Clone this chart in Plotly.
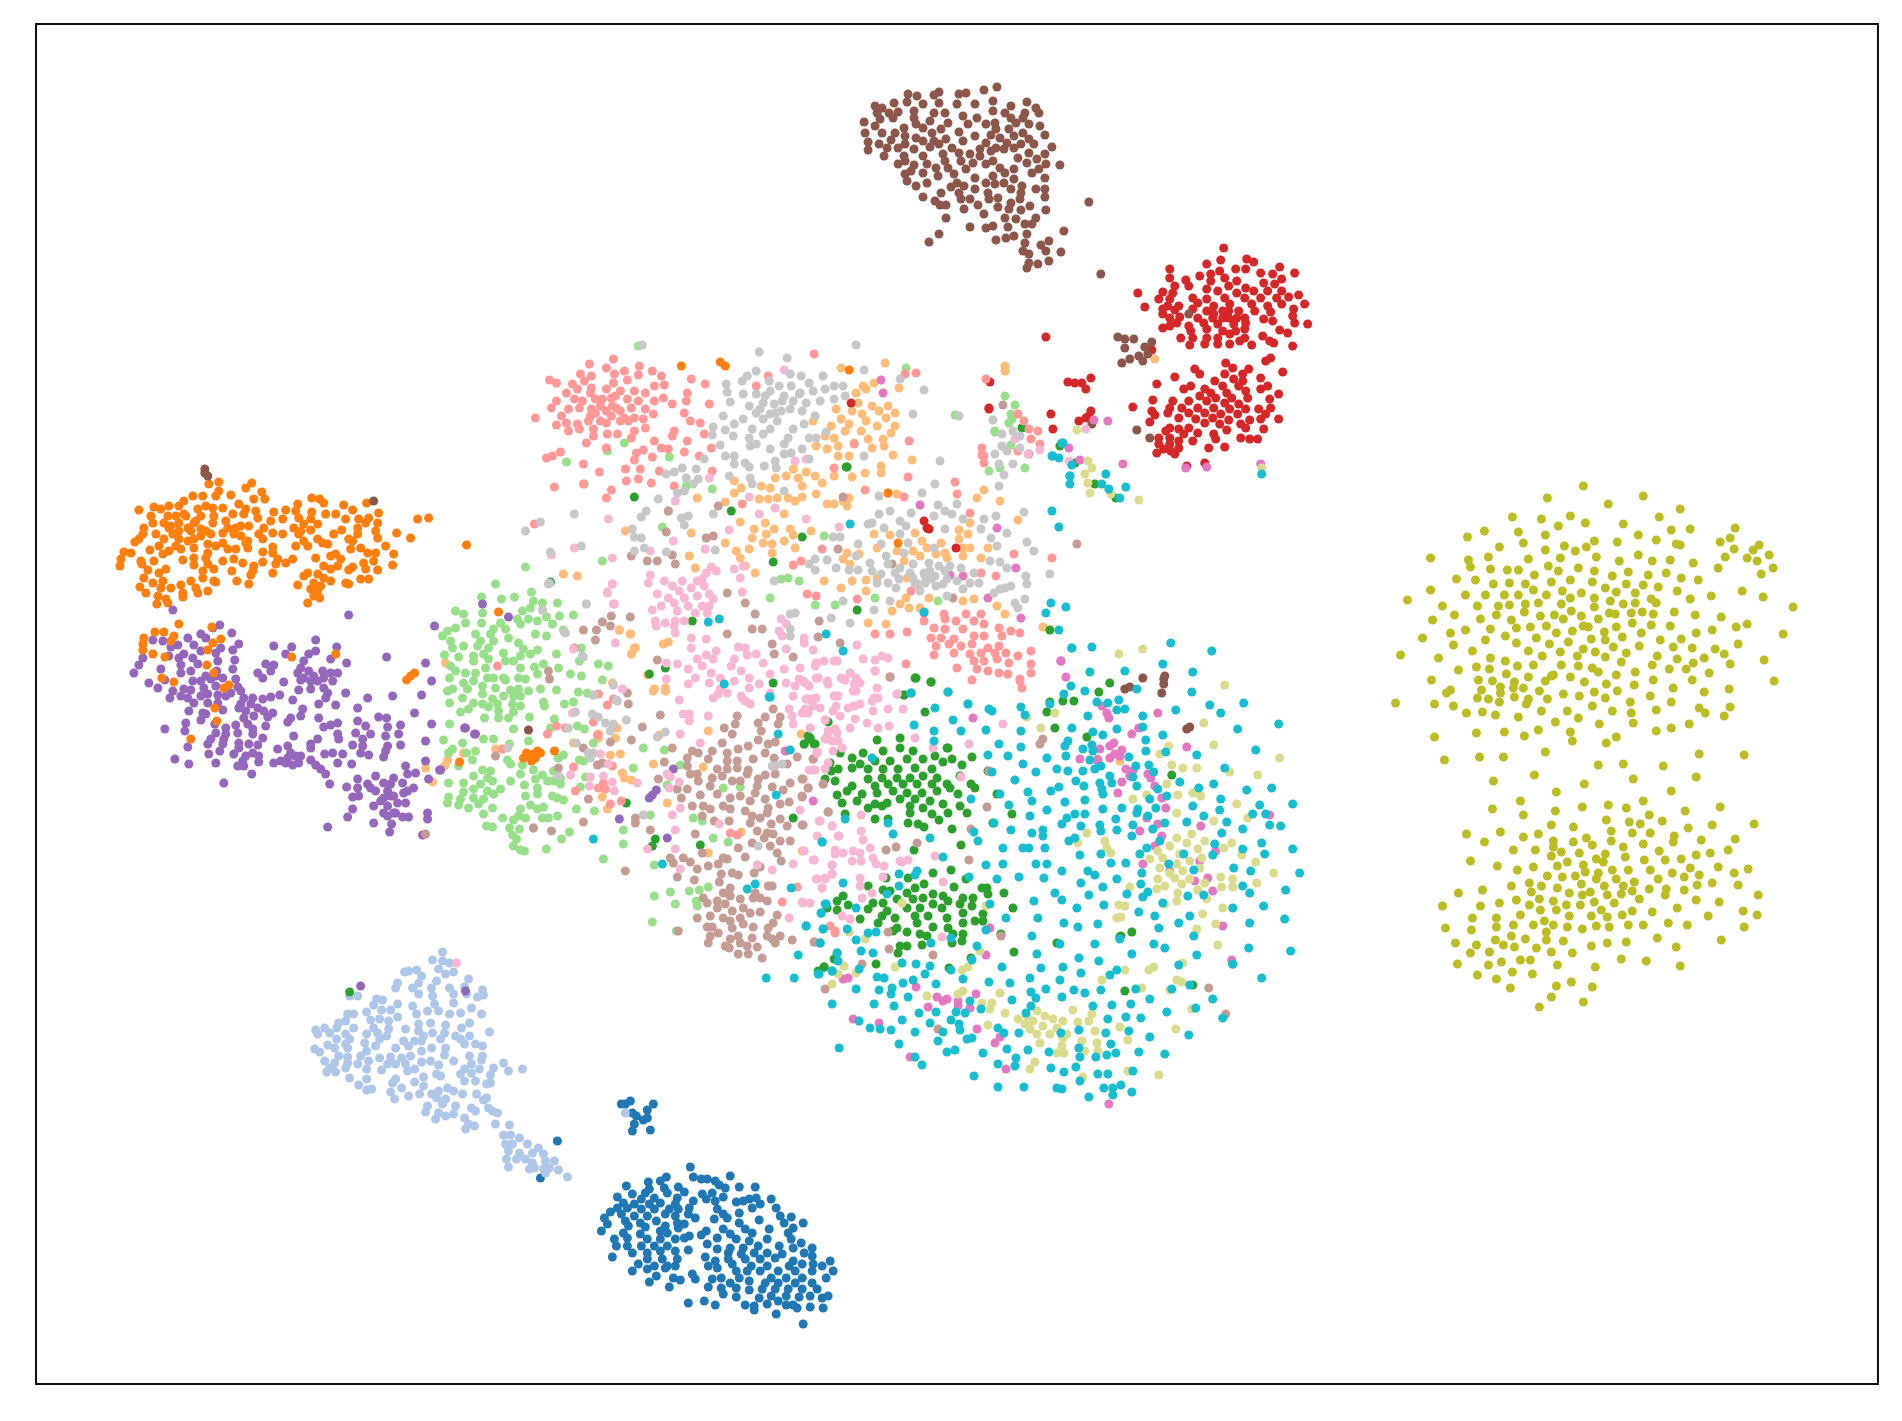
"""Scatter of an embedding, 17 classes in tab20 colours, no ticks or labels."""

import plotly.graph_objects as go

BLUE = [(690,1166),(730,1175),(693,1176),(701,1178),(707,1178),(666,1176),(660,1180),(648,1181),(626,1185),(715,1180),(719,1184),(725,1187),(739,1186),(755,1186),(649,1188),(664,1187),(678,1186),(684,1191),(632,1193),(645,1192),(667,1192),(702,1193),(712,1192),(723,1196),(617,1196),(641,1198),(654,1197),(677,1197),(706,1198),(693,1200),(715,1200),(736,1201),(749,1198),(756,1197),(771,1198),(623,1202),(634,1203),(649,1203),(660,1202),(675,1203),(743,1200),(760,1203),(617,1207),(627,1207),(641,1208),(654,1208),(669,1208),(678,1208),(689,1207),(717,1208),(752,1207),(776,1207),(610,1211),(621,1213),(634,1215),(647,1215),(665,1213),(675,1215),(688,1213),(723,1213),(739,1212),(604,1217),(625,1220),(640,1222),(656,1220),(677,1222),(695,1217),(714,1218),(727,1217),(759,1219),(780,1215),(791,1216),(607,1223),(628,1225),(645,1226),(665,1225),(684,1223),(739,1222),(784,1222),(803,1222),(601,1230),(660,1230),(678,1227),(706,1230),(723,1228),(745,1228),(769,1228),(793,1227),(623,1232),(640,1233),(667,1232),(701,1234),(730,1233),(752,1232),(788,1232),(614,1238),(627,1237),(647,1238),(660,1238),(675,1238),(689,1235),(717,1237),(736,1238),(749,1240),(767,1238),(791,1238),(616,1245),(627,1245),(641,1245),(654,1245),(667,1245),(684,1237),(707,1243),(730,1247),(743,1247),(758,1245),(779,1245),(801,1242),(793,1247),(812,1247),(632,1252),(647,1252),(660,1250),(675,1250),(688,1249),(717,1248),(728,1252),(741,1253),(754,1252),(767,1252),(782,1253),(804,1252),(612,1256),(647,1258),(662,1258),(677,1258),(705,1256),(728,1258),(745,1258),(760,1258),(775,1257),(793,1260),(812,1255),(830,1260),(638,1263),(654,1265),(667,1265),(715,1260),(732,1263),(751,1265),(767,1265),(789,1265),(802,1263),(813,1263),(822,1265),(708,1265),(675,1265),(632,1270),(647,1268),(665,1267),(717,1267),(736,1270),(747,1270),(760,1270),(778,1270),(795,1270),(812,1270),(833,1270),(656,1275),(692,1273),(721,1277),(739,1277),(771,1277),(786,1277),(802,1277),(826,1277),(673,1277),(680,1279),(695,1278),(712,1278),(730,1282),(749,1280),(765,1282),(778,1282),(795,1282),(812,1282),(649,1281),(708,1286),(721,1287),(736,1287),(749,1289),(762,1288),(775,1288),(788,1288),(802,1288),(817,1288),(669,1286),(723,1293),(736,1296),(759,1297),(771,1295),(786,1295),(799,1296),(810,1295),(822,1297),(828,1295),(688,1302),(704,1300),(715,1304),(745,1304),(754,1305),(754,1309),(767,1303),(778,1300),(786,1304),(797,1307),(810,1306),(823,1307),(793,1304),(776,1313),(803,1323),(625,1103),(621,1103),(630,1100),(632,1112),(636,1115),(634,1123),(632,1130),(653,1103),(647,1109),(647,1117),(643,1119),(650,1129),(557,1140),(540,1177)]
LIGHT_BLUE = [(442,951),(432,959),(442,960),(449,962),(438,968),(453,971),(445,973),(404,971),(408,970),(416,969),(421,975),(397,982),(418,982),(436,980),(468,978),(349,995),(357,995),(395,987),(412,987),(431,987),(449,987),(464,986),(482,989),(376,998),(382,999),(418,993),(432,995),(453,993),(466,993),(477,996),(483,994),(397,1003),(373,1004),(412,1005),(434,1003),(453,1002),(381,1009),(390,1009),(427,1010),(438,1010),(471,1007),(366,1011),(416,1013),(397,1016),(449,1013),(460,1012),(481,1013),(347,1013),(353,1013),(370,1019),(379,1018),(388,1020),(345,1020),(338,1022),(418,1023),(430,1022),(445,1024),(469,1022),(315,1029),(324,1027),(336,1027),(353,1027),(373,1027),(388,1028),(405,1028),(418,1030),(461,1027),(489,1031),(317,1033),(329,1032),(345,1033),(366,1033),(377,1032),(386,1035),(432,1032),(444,1032),(455,1035),(469,1035),(336,1038),(349,1038),(364,1042),(379,1038),(403,1040),(414,1040),(423,1035),(440,1038),(460,1038),(327,1044),(345,1043),(375,1045),(421,1040),(464,1043),(475,1043),(482,1045),(314,1048),(319,1051),(334,1047),(347,1047),(366,1050),(395,1047),(408,1045),(431,1047),(445,1047),(410,1055),(421,1050),(444,1054),(469,1055),(482,1055),(338,1055),(347,1056),(360,1055),(379,1057),(390,1056),(401,1057),(324,1060),(334,1062),(347,1062),(357,1063),(368,1060),(421,1061),(430,1060),(453,1060),(481,1059),(387,1063),(395,1063),(405,1063),(438,1064),(471,1063),(329,1067),(345,1067),(366,1068),(381,1069),(407,1070),(414,1068),(464,1068),(479,1068),(493,1067),(503,1062),(508,1070),(522,1068),(326,1071),(335,1071),(349,1077),(436,1073),(440,1075),(460,1073),(471,1072),(490,1074),(366,1078),(423,1076),(395,1078),(414,1081),(490,1082),(358,1084),(392,1082),(401,1087),(423,1085),(464,1080),(475,1080),(486,1083),(366,1089),(371,1088),(390,1091),(447,1087),(408,1095),(419,1093),(431,1093),(438,1090),(453,1090),(462,1093),(476,1093),(394,1098),(436,1097),(445,1098),(486,1097),(483,1099),(427,1105),(442,1103),(455,1105),(425,1111),(438,1112),(453,1113),(445,1115),(471,1107),(475,1110),(488,1107),(492,1110),(497,1112),(435,1118),(464,1117),(468,1123),(474,1125),(465,1128),(495,1123),(509,1124),(503,1134),(510,1134),(519,1137),(505,1143),(512,1143),(527,1143),(538,1147),(508,1150),(519,1152),(532,1152),(543,1153),(506,1158),(516,1158),(525,1158),(532,1162),(545,1160),(554,1160),(508,1166),(529,1168),(534,1167),(543,1168),(549,1167),(558,1169),(545,1172),(567,1176),(625,1112)]
ORANGE = [(218,481),(251,482),(208,483),(245,487),(261,491),(218,490),(192,495),(202,495),(215,495),(230,494),(253,498),(311,497),(264,498),(319,498),(183,500),(323,502),(153,506),(168,505),(178,505),(205,505),(238,503),(297,503),(343,504),(366,502),(138,509),(160,508),(197,508),(212,507),(222,507),(245,508),(352,509),(285,509),(295,510),(311,511),(273,511),(378,512),(150,515),(167,515),(183,513),(200,515),(213,515),(232,513),(243,513),(325,513),(335,513),(257,517),(298,517),(310,518),(345,518),(358,518),(368,517),(417,518),(428,517),(152,522),(163,522),(178,522),(193,522),(212,522),(270,520),(282,518),(303,523),(317,523),(377,522),(143,527),(168,527),(187,527),(200,528),(227,527),(235,527),(248,525),(263,527),(293,527),(310,529),(357,527),(365,522),(142,533),(155,533),(172,533),(210,533),(222,532),(258,533),(272,532),(282,533),(298,533),(333,533),(341,529),(375,530),(396,532),(138,538),(163,538),(178,538),(193,538),(233,533),(247,540),(262,538),(317,538),(348,538),(357,533),(377,537),(410,537),(134,541),(158,545),(193,547),(207,543),(222,542),(303,540),(322,542),(352,540),(245,542),(295,545),(307,545),(327,543),(227,548),(235,548),(272,546),(123,551),(130,552),(149,549),(168,550),(180,548),(207,552),(247,547),(350,548),(360,547),(385,545),(162,553),(262,551),(272,552),(335,553),(367,552),(375,552),(393,553),(120,558),(140,560),(153,560),(182,559),(193,557),(205,557),(233,558),(242,562),(262,561),(277,558),(292,558),(315,557),(330,555),(340,558),(363,562),(119,565),(141,563),(193,564),(207,563),(253,565),(275,563),(285,562),(323,565),(337,565),(352,566),(373,560),(392,564),(147,569),(165,568),(202,570),(213,568),(231,570),(252,570),(272,572),(330,568),(348,569),(365,568),(377,569),(143,577),(158,572),(202,577),(213,580),(250,574),(307,572),(317,573),(323,577),(360,578),(368,578),(152,582),(162,580),(190,580),(236,580),(303,575),(330,580),(345,582),(139,586),(160,587),(170,587),(180,584),(195,587),(215,581),(248,583),(297,584),(313,582),(320,585),(348,583),(207,590),(145,592),(157,595),(182,592),(197,592),(310,588),(317,590),(165,598),(182,596),(313,595),(319,597),(156,603),(167,602),(307,602),(170,525),(178,530),(185,515),(190,530),(175,515),(195,520),(200,535),(187,540),(205,530),(175,545),(300,530),(215,545),(225,520),(240,525),(240,535),(255,510),(222,560)]
ORANGE_STRAY = [(178,623),(154,631),(163,631),(211,626),(143,637),(173,635),(220,638),(142,643),(170,640),(212,642),(142,649),(152,653),(207,649),(164,656),(291,656),(335,653),(206,664),(213,672),(161,677),(173,681),(228,684),(223,687),(214,707),(216,720),(190,738),(406,679),(410,675),(414,672),(466,544),(498,611),(523,757),(528,755),(533,753),(537,750),(540,752),(535,757),(531,760),(526,752),(554,750),(459,761),(681,365),(720,361),(725,365),(849,369),(888,492),(898,542)]
LIGHT_ORANGE = [(841,367),(885,362),(874,382),(863,385),(899,387),(856,392),(866,388),(858,402),(872,405),(888,405),(836,408),(852,410),(879,410),(895,412),(841,418),(862,413),(866,420),(886,417),(813,420),(831,425),(849,423),(861,430),(877,425),(895,425),(891,432),(845,430),(868,438),(883,438),(834,437),(825,435),(838,445),(854,442),(872,447),(884,445),(816,445),(827,448),(838,455),(849,455),(893,454),(912,459),(881,465),(834,475),(852,476),(865,472),(881,472),(793,468),(806,471),(815,475),(822,482),(775,477),(786,475),(798,477),(734,480),(741,487),(761,485),(770,487),(802,485),(816,493),(697,497),(734,492),(759,498),(768,498),(777,497),(788,497),(795,500),(802,496),(725,501),(827,503),(834,503),(849,497),(847,505),(784,513),(740,521),(765,522),(754,528),(774,528),(790,528),(811,530),(691,532),(766,533),(752,537),(793,534),(763,542),(772,543),(725,542),(784,540),(749,548),(736,550),(795,547),(772,552),(740,557),(745,565),(755,572),(695,567),(689,555),(625,530),(563,573),(577,575),(619,629),(630,633),(634,647),(631,653),(663,643),(668,641),(647,674),(654,688),(665,687),(888,492),(897,493),(984,489),(977,497),(1000,500),(843,500),(1018,519),(970,522),(959,529),(874,533),(890,534),(915,532),(968,533),(922,540),(941,542),(959,538),(963,547),(847,552),(877,547),(897,550),(913,550),(927,547),(945,552),(970,547),(988,547),(843,558),(859,553),(920,555),(936,553),(963,555),(981,557),(850,563),(904,560),(947,557),(852,580),(866,579),(877,577),(907,577),(824,580),(841,587),(866,590),(906,597),(929,597),(963,600),(974,598),(997,605),(900,603),(909,607),(920,607),(892,610),(1005,613),(868,622),(1043,626),(886,623),(1155,358),(619,629),(630,633),(635,647),(631,653),(445,662),(598,733),(598,737),(615,737),(617,727),(573,742),(610,754),(620,753),(495,748),(447,759),(463,752),(622,772),(624,777),(631,779),(602,796),(607,808),(612,682),(653,690),(665,690),(708,730),(659,734),(653,763),(703,766),(667,802),(741,831),(708,852),(802,850),(801,733),(1120,760),(444,765),(425,767),(432,781),(1005,370),(1005,365)]
GREEN = [(877,739),(900,737),(863,752),(883,750),(900,747),(913,750),(935,755),(948,747),(840,752),(852,757),(860,763),(875,760),(890,760),(907,758),(923,758),(943,761),(952,758),(838,768),(852,767),(868,768),(883,768),(898,768),(915,767),(932,768),(962,764),(835,780),(868,778),(882,777),(897,777),(910,777),(923,775),(937,777),(852,785),(875,785),(888,783),(903,783),(917,783),(932,783),(947,783),(960,775),(971,783),(975,787),(837,794),(847,790),(862,793),(877,792),(893,790),(907,792),(922,792),(937,790),(950,787),(958,793),(842,802),(857,800),(875,803),(887,802),(900,798),(915,798),(930,800),(943,803),(868,807),(882,805),(910,805),(923,807),(960,805),(967,812),(910,812),(932,813),(948,812),(875,818),(888,818),(845,813),(939,819),(908,822),(918,823),(924,826),(952,828),(961,844),(914,849),(972,756),(947,747),(810,738),(804,743),(814,743),(808,735),(830,762),(831,770),(825,778),(916,677),(931,681),(904,694),(925,711),(828,721),(1055,727),(1050,701),(1063,700),(1074,700),(1047,711),(1099,691),(1110,682),(1087,736),(1172,774),(1012,813),(993,822),(997,793),(988,770),(1193,984),(1120,936),(933,872),(951,869),(908,877),(886,877),(868,885),(915,887),(924,883),(954,886),(966,878),(982,887),(987,887),(883,889),(890,890),(907,892),(933,893),(943,895),(963,897),(973,897),(988,893),(1004,892),(843,895),(837,900),(873,902),(883,902),(897,898),(913,898),(923,897),(933,903),(948,900),(960,903),(972,905),(827,907),(848,904),(868,908),(887,910),(907,907),(920,907),(942,907),(963,912),(1013,907),(837,909),(882,915),(895,917),(915,915),(928,915),(947,917),(963,922),(983,913),(860,918),(878,922),(897,927),(917,922),(933,926),(948,927),(975,920),(983,920),(893,930),(907,931),(927,935),(920,933),(953,933),(963,933),(962,940),(952,942),(900,945),(907,945),(898,952),(922,944),(837,952),(834,958),(876,963),(824,966),(818,970),(1001,933),(1014,951),(1057,942),(971,957),(949,967),(1121,935),(1132,931),(1233,963),(1125,990),(804,743),(810,737),(815,743),(655,838),(652,845),(700,844),(793,817),(824,966),(1095,483),(1116,497),(1060,445),(1075,462),(846,466),(847,466),(634,496),(731,510),(802,536),(773,561),(857,609),(692,620),(665,667),(773,682),(915,677),(931,681),(904,694),(550,581),(649,673),(1022,427),(1050,629),(626,802),(349,991)]
LIGHT_GREEN = [(495,583),(481,596),(501,598),(514,596),(531,591),(533,600),(542,602),(557,602),(573,614),(482,612),(455,610),(463,613),(530,607),(522,610),(559,615),(546,616),(465,622),(481,622),(500,622),(517,618),(528,618),(537,620),(552,623),(455,627),(493,628),(505,628),(520,623),(535,633),(563,629),(447,630),(475,633),(490,633),(546,635),(508,637),(450,640),(480,640),(493,640),(518,642),(442,635),(463,645),(452,647),(477,645),(488,647),(523,648),(537,649),(581,647),(556,653),(503,652),(483,653),(444,654),(458,656),(473,655),(520,655),(530,653),(579,660),(473,660),(488,658),(505,660),(513,660),(543,663),(598,663),(608,665),(450,665),(485,667),(520,667),(534,666),(558,667),(455,670),(465,672),(475,672),(537,673),(570,673),(581,675),(449,677),(487,677),(503,677),(518,677),(525,678),(602,679),(463,682),(473,680),(493,677),(482,685),(505,679),(467,688),(540,688),(556,689),(578,691),(587,692),(447,690),(452,688),(495,687),(510,689),(518,688),(528,690),(482,693),(503,695),(462,697),(513,695),(520,695),(492,698),(449,702),(543,701),(544,705),(564,703),(573,701),(482,703),(497,703),(512,703),(520,705),(473,702),(468,708),(460,711),(488,706),(498,710),(513,711),(484,717),(498,717),(508,717),(529,716),(554,718),(449,723),(513,728),(550,727),(577,725),(584,728),(528,740),(443,739),(483,738),(493,738),(462,742),(593,742),(509,743),(452,748),(448,752),(475,750),(466,752),(563,754),(558,757),(579,759),(583,760),(472,759),(507,759),(633,767),(458,765),(510,763),(522,764),(482,769),(490,770),(533,769),(553,770),(473,775),(520,773),(542,774),(585,776),(487,777),(535,778),(560,777),(510,780),(448,782),(463,782),(480,783),(492,780),(547,780),(553,780),(560,783),(500,788),(524,784),(580,786),(537,787),(473,788),(487,790),(463,791),(493,793),(552,795),(448,796),(460,798),(473,797),(525,795),(537,793),(483,798),(557,797),(447,802),(563,799),(530,804),(468,807),(478,803),(458,804),(492,807),(520,808),(537,808),(543,806),(576,808),(594,810),(483,813),(502,817),(518,815),(513,819),(557,815),(542,817),(548,817),(525,817),(486,825),(492,826),(533,827),(509,827),(519,828),(623,829),(569,831),(512,834),(516,838),(561,838),(623,843),(513,845),(520,849),(524,850),(546,848),(603,858),(643,747),(664,749),(680,764),(667,784),(723,787),(740,786),(693,817),(702,820),(713,837),(728,841),(650,814),(654,864),(670,891),(689,890),(699,889),(708,886),(675,903),(654,895),(696,900),(697,905),(652,921),(676,930),(1011,413),(1009,422),(906,367),(955,414),(995,431),(1011,444),(1000,467),(989,470),(1025,467),(566,461),(624,442),(607,450),(584,483),(669,456),(686,485),(712,488),(668,510),(662,526),(602,560),(525,566),(706,537),(799,580),(788,577),(781,578),(770,597),(815,604),(835,604),(875,597),(938,600),(824,535),(995,430),(638,345),(1012,418),(1015,404),(1005,395)]
RED = [(1224,247),(1221,259),(1247,258),(1254,261),(1207,263),(1280,266),(1170,268),(1236,268),(1246,268),(1295,272),(1261,272),(1273,273),(1200,275),(1211,273),(1220,270),(1225,277),(1170,277),(1186,279),(1211,280),(1237,280),(1282,278),(1175,285),(1189,285),(1207,288),(1229,285),(1246,287),(1264,282),(1275,283),(1138,292),(1163,291),(1173,292),(1218,290),(1237,292),(1254,290),(1268,290),(1282,290),(1299,294),(1159,298),(1170,298),(1193,297),(1207,298),(1225,297),(1245,297),(1261,297),(1277,297),(1289,296),(1168,305),(1179,305),(1198,302),(1214,305),(1230,303),(1252,303),(1268,305),(1282,303),(1305,303),(1145,306),(1163,308),(1175,309),(1193,308),(1207,310),(1223,310),(1239,310),(1255,310),(1271,311),(1294,308),(1163,313),(1180,316),(1198,317),(1213,317),(1229,317),(1245,317),(1264,318),(1293,315),(1170,317),(1177,322),(1189,325),(1204,322),(1218,323),(1234,323),(1246,322),(1273,320),(1295,322),(1308,323),(1163,327),(1170,325),(1191,330),(1207,328),(1223,330),(1236,330),(1245,328),(1280,329),(1288,332),(1181,337),(1193,337),(1207,337),(1218,337),(1230,333),(1245,337),(1263,335),(1270,340),(1274,342),(1190,344),(1205,343),(1218,343),(1230,343),(1240,340),(1252,344),(1293,345),(1214,313),(1229,310),(1237,317),(1223,317),(1271,357),(1266,360),(1226,362),(1233,367),(1195,368),(1249,368),(1283,371),(1200,373),(1225,373),(1243,373),(1261,377),(1175,376),(1234,378),(1243,380),(1215,380),(1157,383),(1191,385),(1205,388),(1223,385),(1239,385),(1268,385),(1184,388),(1211,392),(1227,392),(1246,390),(1261,388),(1200,395),(1216,397),(1232,397),(1248,397),(1279,393),(1153,399),(1173,400),(1189,400),(1207,400),(1225,402),(1239,403),(1270,398),(1133,406),(1170,407),(1182,407),(1198,407),(1214,407),(1230,408),(1246,408),(1259,408),(1271,407),(1152,410),(1168,412),(1189,412),(1205,412),(1221,413),(1238,413),(1266,413),(1155,414),(1179,417),(1196,418),(1213,417),(1229,419),(1250,419),(1261,418),(1279,418),(1150,421),(1205,422),(1220,423),(1241,423),(1264,428),(1170,427),(1189,427),(1179,428),(1198,432),(1214,433),(1227,429),(1246,427),(1166,430),(1184,433),(1159,437),(1170,437),(1241,437),(1250,438),(1258,438),(1216,438),(1179,440),(1193,440),(1159,443),(1170,443),(1209,447),(1225,446),(1179,447),(1164,448),(1157,452),(1175,453),(1171,450),(1205,462),(1187,465),(1046,336),(989,408),(990,381),(1051,413),(1053,428),(1079,420),(1086,417),(1091,410),(1089,415),(1068,381),(1075,382),(1082,382),(1091,377),(1086,388),(1152,349),(851,402),(924,520),(929,528),(927,527),(956,547),(989,407)]
LIGHT_RED = [(613,358),(589,363),(606,367),(639,365),(624,370),(652,370),(580,373),(591,375),(614,373),(661,375),(638,374),(549,379),(556,382),(572,383),(584,380),(613,382),(627,379),(664,384),(654,385),(691,378),(705,383),(566,392),(577,388),(591,387),(606,388),(620,390),(634,390),(645,392),(663,397),(687,392),(556,400),(574,398),(582,400),(595,398),(611,397),(627,398),(638,400),(654,400),(672,403),(686,400),(709,403),(551,407),(568,408),(579,407),(591,408),(606,410),(616,407),(631,407),(645,408),(684,412),(535,417),(561,415),(595,412),(611,415),(624,417),(634,417),(653,413),(690,420),(556,424),(566,422),(577,423),(588,420),(606,422),(620,420),(643,418),(700,422),(568,430),(579,428),(593,428),(607,433),(617,433),(634,430),(645,427),(674,430),(704,433),(593,435),(586,442),(631,437),(654,440),(672,435),(687,440),(606,447),(661,447),(668,448),(643,449),(636,452),(684,451),(711,447),(560,451),(552,455),(546,457),(652,456),(634,459),(699,455),(583,463),(625,468),(640,468),(599,471),(659,470),(712,470),(674,485),(626,480),(638,478),(554,486),(583,483),(651,482),(611,489),(606,497),(534,523),(756,385),(768,375),(905,373),(916,372),(814,353),(986,378),(909,440),(908,476),(834,467),(854,443),(742,503),(865,489),(793,564),(801,560),(822,548),(807,593),(955,481),(957,493),(904,496),(970,512),(1052,557),(1014,553),(996,575),(981,572),(911,590),(857,598),(816,595),(982,447),(984,455),(982,454),(984,462),(1018,413),(1024,420),(1029,428),(1038,430),(1031,438),(1040,443),(1018,450),(944,613),(966,613),(981,613),(924,620),(945,618),(956,620),(974,620),(984,623),(907,631),(934,627),(945,628),(963,628),(999,627),(1011,630),(1020,632),(890,633),(931,637),(941,637),(954,638),(974,635),(984,635),(1002,635),(875,633),(936,645),(949,643),(961,645),(972,643),(988,647),(999,645),(934,654),(954,652),(970,653),(981,652),(995,652),(1006,652),(1018,655),(1031,650),(957,667),(974,660),(984,660),(997,658),(1009,662),(1031,663),(977,668),(988,670),(999,672),(1008,673),(1031,672),(972,679),(1020,680),(1022,687),(906,663),(1020,678),(497,665),(556,725),(565,727),(547,733),(502,748),(593,721),(598,693),(607,704),(613,698),(613,724),(597,734),(573,766),(575,790),(603,782),(598,787),(605,788),(610,803),(621,800),(612,765),(730,832),(737,834),(782,901),(797,886),(835,932),(600,405),(612,405),(600,420),(620,410),(590,392),(615,395),(628,420),(602,398),(590,415),(830,925),(835,930)]
PURPLE = [(172,609),(348,614),(434,625),(482,603),(508,616),(219,624),(212,627),(231,632),(200,633),(152,639),(162,640),(187,637),(205,637),(315,639),(238,643),(170,646),(177,644),(193,644),(220,647),(273,645),(291,646),(336,646),(232,649),(183,653),(200,650),(215,652),(285,653),(315,650),(308,653),(386,656),(142,657),(168,655),(178,657),(192,657),(217,660),(234,659),(303,660),(330,658),(346,662),(425,662),(138,664),(180,664),(197,663),(265,663),(273,664),(300,667),(133,672),(160,668),(180,672),(190,670),(232,668),(257,672),(270,670),(297,672),(308,670),(322,670),(330,672),(337,672),(262,677),(303,677),(313,675),(323,677),(200,680),(210,678),(222,677),(235,678),(164,679),(283,681),(300,679),(317,680),(332,680),(431,680),(148,682),(203,687),(215,685),(237,686),(157,687),(172,690),(183,688),(310,688),(323,687),(190,689),(298,689),(207,693),(230,692),(180,695),(187,697),(327,692),(345,692),(217,694),(243,697),(252,697),(262,698),(270,696),(279,694),(392,695),(421,694),(169,697),(292,699),(325,697),(367,697),(193,702),(207,702),(217,702),(240,703),(250,703),(318,703),(335,704),(238,707),(257,707),(357,707),(188,710),(205,713),(222,709),(245,710),(263,710),(272,712),(302,708),(414,712),(202,712),(243,717),(253,715),(267,716),(290,717),(300,715),(318,717),(378,716),(386,717),(200,719),(287,721),(357,720),(214,723),(235,724),(247,723),(265,725),(337,722),(431,723),(185,722),(323,726),(330,724),(365,725),(387,726),(400,724),(164,728),(225,727),(252,728),(465,727),(184,730),(215,732),(225,733),(237,732),(252,733),(337,733),(355,732),(370,733),(398,733),(475,733),(293,735),(210,738),(223,738),(262,737),(317,738),(362,738),(385,735),(425,740),(207,743),(222,743),(238,742),(248,743),(257,744),(338,738),(187,746),(287,745),(310,743),(352,744),(362,745),(387,745),(400,744),(219,750),(238,747),(277,748),(290,752),(310,747),(385,750),(360,752),(208,753),(233,753),(245,755),(258,755),(287,757),(300,755),(324,753),(332,752),(342,753),(368,754),(383,756),(174,758),(215,762),(242,760),(258,761),(273,762),(285,762),(298,762),(310,759),(337,762),(425,760),(188,763),(237,765),(243,765),(292,764),(315,764),(351,763),(320,768),(251,773),(325,773),(405,765),(415,772),(407,773),(439,769),(375,775),(393,777),(428,778),(329,783),(223,782),(357,778),(367,783),(383,782),(390,783),(402,782),(346,786),(357,787),(370,787),(387,790),(407,790),(413,787),(352,796),(358,795),(383,797),(393,795),(403,792),(373,805),(387,805),(397,802),(405,802),(352,808),(383,812),(393,812),(427,812),(347,816),(387,815),(402,816),(408,816),(427,818),(373,822),(391,823),(327,826),(389,831),(422,834),(464,727),(474,733),(619,818),(440,769),(673,768),(656,789),(652,794),(649,797),(667,837),(216,670),(205,675),(200,695),(215,675),(192,680),(225,695),(240,690),(310,680),(395,812),(380,800),(390,795),(375,790),(252,752),(295,755),(280,760),(465,990),(360,985)]
BROWN = [(997,86),(984,89),(966,92),(959,93),(939,91),(908,93),(917,95),(934,94),(1027,101),(894,102),(907,101),(923,103),(939,102),(957,103),(975,103),(993,100),(1011,105),(875,105),(882,107),(1036,107),(914,110),(934,112),(945,112),(963,115),(993,110),(1005,112),(1025,112),(1039,112),(877,112),(889,112),(898,111),(914,117),(930,120),(948,122),(977,117),(1011,117),(1023,117),(864,121),(880,118),(893,117),(968,123),(986,123),(995,122),(1016,122),(1029,123),(1040,125),(875,125),(904,127),(916,123),(923,127),(941,128),(959,131),(996,128),(1009,128),(865,132),(882,132),(895,132),(932,132),(975,135),(991,134),(1023,132),(1045,134),(905,135),(916,137),(946,138),(1000,137),(1014,135),(1029,138),(868,141),(891,139),(923,140),(934,140),(963,140),(986,142),(1007,142),(1021,143),(879,143),(905,143),(939,143),(996,147),(1034,143),(868,149),(887,147),(898,147),(914,148),(930,146),(952,147),(980,148),(1014,147),(1052,146),(884,155),(904,155),(923,155),(943,153),(959,152),(970,153),(991,150),(1004,148),(1029,152),(1045,153),(905,160),(945,160),(980,155),(993,160),(1018,157),(1037,158),(898,163),(914,164),(927,163),(961,160),(973,162),(1000,167),(1027,162),(1046,163),(1060,164),(936,167),(948,167),(911,170),(966,168),(986,163),(1014,168),(1039,168),(905,173),(923,172),(938,175),(954,173),(993,175),(1005,172),(1032,172),(975,177),(1045,177),(907,180),(927,182),(957,182),(986,182),(1014,178),(916,185),(964,185),(975,188),(995,183),(1004,182),(1022,185),(951,186),(1036,188),(1045,188),(941,192),(959,192),(988,192),(1011,188),(1021,192),(923,196),(998,197),(1020,198),(1045,196),(961,198),(935,200),(970,198),(989,198),(1011,202),(940,204),(946,204),(978,204),(1030,205),(998,206),(1021,209),(1046,209),(964,208),(1009,208),(984,213),(946,217),(1005,217),(1016,218),(1036,217),(970,226),(986,227),(993,225),(1008,226),(1025,223),(1032,223),(1064,230),(939,233),(1027,233),(996,239),(1006,237),(1014,235),(929,241),(1025,242),(1041,244),(1049,240),(1046,250),(1061,251),(1023,250),(1029,253),(1029,262),(1038,263),(1049,260),(1027,267),(1089,201),(1101,273),(1118,336),(1125,338),(1134,338),(1125,347),(1152,341),(1145,346),(1148,353),(1130,358),(1139,355),(1143,360),(1122,362),(1189,313),(1137,429),(1150,437),(204,468),(207,475),(204,472),(373,500),(528,729),(1092,423),(1125,688),(1130,686),(1143,677),(1165,675),(1164,683),(1162,692),(1190,726),(1187,728),(1164,678)]
LIGHT_BROWN = [(660,714),(642,726),(737,715),(765,716),(780,716),(773,708),(735,723),(758,722),(778,723),(724,727),(761,730),(732,733),(758,739),(722,742),(775,741),(768,743),(748,745),(738,748),(712,750),(692,750),(698,752),(727,752),(765,752),(672,747),(753,758),(687,757),(708,758),(727,760),(737,760),(774,757),(797,756),(813,758),(664,761),(687,765),(717,768),(748,769),(727,768),(787,763),(737,767),(697,773),(690,773),(712,777),(722,775),(747,773),(765,774),(775,773),(658,778),(698,780),(732,780),(758,778),(790,782),(802,778),(710,785),(740,780),(757,785),(772,786),(808,787),(823,783),(677,788),(687,788),(717,793),(783,789),(700,794),(740,795),(755,792),(681,797),(730,797),(802,796),(765,798),(750,800),(789,801),(780,803),(723,805),(692,805),(703,805),(710,808),(768,807),(730,808),(745,810),(828,811),(767,812),(780,818),(760,817),(752,815),(702,815),(714,820),(729,820),(750,822),(771,823),(787,825),(802,824),(757,830),(650,829),(695,833),(767,832),(773,833),(764,837),(780,840),(790,840),(752,842),(770,845),(738,847),(777,852),(702,852),(745,856),(723,857),(781,860),(670,857),(673,862),(683,857),(690,861),(727,858),(718,863),(697,868),(708,865),(677,876),(721,873),(732,872),(738,874),(754,872),(760,866),(694,879),(719,881),(768,885),(772,885),(730,887),(755,892),(723,892),(703,897),(730,895),(753,897),(760,897),(767,900),(717,900),(740,898),(707,902),(725,903),(743,907),(717,907),(732,910),(760,911),(750,912),(710,915),(723,917),(740,917),(777,914),(697,917),(730,920),(773,922),(743,923),(753,926),(768,927),(707,926),(712,926),(732,927),(780,935),(718,932),(710,935),(767,935),(678,930),(738,935),(752,937),(708,942),(730,938),(772,938),(792,939),(740,942),(775,942),(725,945),(747,945),(757,946),(729,947),(738,953),(748,953),(762,957),(814,941),(630,616),(611,615),(610,625),(602,621),(596,629),(583,629),(595,639),(574,647),(548,670),(549,678),(627,692),(628,703),(631,739),(610,741),(583,747),(495,755),(602,762),(597,764),(558,767),(588,798),(635,817),(635,822),(551,830),(583,821),(625,870),(668,510),(666,531),(713,535),(718,505),(706,537),(647,560),(657,560),(672,554),(631,555),(675,563),(727,592),(745,602),(755,613),(752,628),(762,628),(727,633),(772,643),(774,653),(793,656),(818,636),(840,642),(819,620),(657,659),(890,676),(892,563),(838,548),(953,597),(843,496),(1003,404),(1029,453),(1077,543),(1040,743),(1043,738),(890,676),(813,758),(808,787),(823,783),(803,778),(802,795),(828,811),(803,824),(987,806),(971,828),(917,842),(886,849),(896,846),(969,859),(888,931),(814,941),(889,948),(933,954),(862,963),(825,988),(1001,935),(1209,987),(1226,1013),(938,1028),(1098,758),(989,770),(425,833),(533,827)]
PINK = [(1061,660),(1066,676),(1102,705),(1107,712),(1109,717),(1158,712),(973,717),(1132,733),(1139,727),(1187,746),(1114,742),(1100,748),(1122,749),(1115,753),(1110,757),(1080,758),(1126,768),(1133,770),(1148,773),(1151,777),(1122,781),(1118,792),(1162,797),(1166,807),(1147,817),(1158,823),(1162,835),(1201,825),(1270,814),(1143,863),(1208,877),(1213,890),(1223,925),(986,954),(843,978),(848,977),(916,986),(976,993),(937,996),(943,1000),(947,998),(958,1000),(958,1005),(928,1006),(970,1007),(977,1028),(995,1042),(1000,1036),(879,1022),(853,1018),(910,1056),(1006,1068),(1109,1103),(1232,959),(990,927),(881,379),(883,392),(1094,419),(1108,420),(1069,447),(1123,463),(1186,467),(1207,466),(1261,463),(1080,459),(920,504),(997,527),(1016,567),(988,597),(1021,617),(963,575),(950,574),(924,612),(1061,660),(785,750),(813,800),(1110,745),(1120,755),(1098,760),(1130,775),(1155,785),(1140,830),(1155,845),(1170,870),(1200,860),(1216,850),(1195,880)]
LIGHT_PINK = [(784,369),(795,460),(806,458),(709,477),(749,496),(675,500),(775,507),(759,513),(608,518),(806,518),(729,529),(673,540),(574,547),(612,557),(551,554),(650,550),(705,548),(839,526),(711,566),(706,572),(716,570),(734,568),(743,565),(650,574),(702,578),(740,577),(664,580),(682,580),(697,580),(648,582),(672,585),(691,587),(704,585),(679,590),(709,593),(657,593),(668,597),(684,597),(697,595),(713,598),(661,605),(674,602),(688,605),(702,605),(709,605),(652,609),(677,610),(695,612),(707,612),(655,620),(665,622),(675,620),(684,620),(656,625),(674,625),(675,632),(607,592),(612,583),(614,603),(742,591),(691,637),(706,638),(781,618),(786,623),(779,630),(804,637),(782,635),(804,642),(691,647),(706,654),(716,650),(738,646),(745,647),(756,653),(747,654),(697,658),(713,658),(734,658),(786,648),(813,649),(857,644),(882,655),(863,658),(875,659),(888,657),(834,660),(816,662),(824,660),(666,662),(702,665),(731,665),(763,662),(815,665),(688,668),(711,672),(741,670),(784,668),(800,667),(677,663),(850,672),(720,677),(749,677),(770,673),(816,677),(841,677),(875,670),(666,678),(695,677),(709,682),(759,683),(799,678),(827,680),(854,683),(688,683),(734,680),(786,682),(809,685),(845,679),(856,677),(720,688),(749,687),(770,692),(795,685),(834,695),(856,690),(897,693),(874,697),(741,695),(713,697),(806,698),(816,697),(679,699),(745,700),(836,705),(872,700),(813,705),(854,705),(817,662),(837,660),(875,670),(850,672),(805,682),(818,677),(843,678),(860,682),(828,683),(877,687),(853,690),(838,695),(808,698),(897,693),(878,697),(860,703),(833,710),(848,707),(820,707),(805,708),(888,708),(873,710),(903,708),(840,715),(825,719),(855,718),(867,722),(810,727),(878,727),(889,725),(835,728),(850,727),(1003,723),(828,732),(825,738),(915,737),(969,743),(933,747),(842,747),(833,750),(817,752),(828,762),(813,769),(961,776),(861,814),(819,820),(832,825),(839,835),(861,830),(863,839),(835,849),(843,852),(853,850),(860,852),(870,847),(873,857),(813,859),(852,860),(861,860),(832,864),(876,863),(884,865),(902,861),(908,859),(935,855),(816,878),(825,877),(832,873),(860,877),(860,885),(822,887),(883,876),(943,881),(842,915),(850,918),(862,897),(872,892),(803,902),(942,936),(900,860),(803,680),(812,700),(683,713),(689,713),(689,720),(708,715),(680,733),(700,742),(667,773),(670,776),(679,781),(669,787),(680,807),(672,814),(675,829),(647,848),(675,848),(680,868),(719,823),(757,864),(772,869),(793,863),(804,850),(814,859),(789,917),(802,901),(810,902),(817,878),(825,878),(832,873),(822,887),(820,820),(832,825),(817,835),(838,835),(835,853),(832,864),(800,809),(809,769),(815,769),(817,751),(825,719),(810,727),(828,730),(837,732),(832,740),(838,740),(825,738),(825,768),(835,695),(807,698),(813,698),(813,705),(793,695),(789,708),(792,715),(802,712),(808,712),(793,723),(750,703),(742,697),(718,693),(727,692),(607,591),(613,603),(612,583),(615,642),(573,648),(622,688),(572,712),(600,753),(608,763),(570,774),(590,776),(589,785),(603,775),(612,781),(614,790),(637,782),(456,962),(1069,460),(1086,428),(1028,453),(1040,449),(1015,438)]
GREY = [(642,344),(759,351),(787,357),(856,344),(756,370),(742,380),(747,375),(790,373),(801,375),(823,375),(864,369),(900,378),(924,389),(726,383),(727,391),(730,401),(743,393),(756,393),(769,380),(779,385),(791,385),(809,382),(834,385),(843,385),(845,395),(770,390),(784,395),(799,393),(813,390),(825,388),(834,398),(749,405),(763,402),(774,403),(793,400),(806,402),(820,400),(756,412),(770,413),(781,410),(802,410),(815,415),(723,415),(743,418),(763,418),(777,420),(713,426),(734,423),(752,428),(770,428),(793,428),(804,423),(826,431),(913,413),(959,415),(712,434),(725,429),(733,435),(749,437),(763,433),(788,437),(816,437),(809,437),(720,444),(750,445),(770,448),(784,443),(802,448),(756,443),(725,455),(734,455),(775,460),(784,453),(791,452),(809,458),(864,455),(704,458),(745,462),(734,463),(749,466),(764,465),(776,467),(696,468),(682,467),(729,475),(674,471),(666,473),(686,477),(698,478),(750,477),(752,483),(693,483),(684,490),(677,492),(658,498),(784,490),(940,460),(999,485),(1004,474),(999,463),(995,453),(993,419),(1002,433),(1013,430),(1020,435),(1002,445),(1007,450),(1020,447),(1013,463),(646,510),(641,516),(688,515),(681,517),(684,524),(713,513),(540,521),(525,530),(574,513),(632,528),(634,536),(641,537),(634,550),(644,547),(666,551),(715,549),(550,551),(581,545),(549,582),(542,609),(586,603),(565,632),(582,655),(593,694),(616,699),(879,495),(922,492),(935,483),(938,504),(911,512),(879,513),(890,510),(945,510),(957,503),(934,515),(952,513),(963,518),(1024,511),(996,515),(984,518),(872,522),(868,523),(900,520),(906,525),(945,528),(981,528),(884,527),(900,533),(833,536),(840,536),(991,537),(1007,532),(1027,541),(1034,550),(858,543),(881,543),(908,542),(934,547),(997,545),(856,555),(886,555),(904,552),(815,558),(827,559),(809,563),(870,562),(888,563),(990,560),(1000,561),(1007,567),(815,569),(836,567),(849,569),(858,569),(872,570),(900,567),(913,563),(929,562),(939,565),(924,572),(950,565),(961,567),(974,572),(1026,575),(1050,573),(774,580),(881,573),(895,572),(913,577),(931,578),(947,578),(957,580),(970,582),(979,582),(877,582),(888,582),(899,578),(915,583),(925,582),(936,585),(943,583),(963,588),(1000,588),(1005,587),(1011,585),(1027,583),(896,587),(920,590),(947,595),(994,592),(890,600),(1015,602),(1025,598),(843,600),(1018,607),(874,609),(795,612),(790,613),(831,617),(850,622),(790,628),(790,635),(548,583),(586,603),(542,609),(564,631),(583,656),(613,684),(593,694),(617,700),(575,711),(592,713),(598,716),(605,722),(626,719),(568,727),(613,723),(610,730),(576,742),(588,752),(593,752),(590,757),(507,747),(558,775),(665,731),(657,736),(772,765),(782,763),(775,765),(758,845),(643,814),(925,575),(930,570),(918,583),(910,572),(945,570),(935,575),(782,400),(760,408),(790,408),(800,392),(775,412),(765,395)]
KHAKI = [(1177,837),(1192,833),(1205,840),(1187,842),(1170,845),(1198,848),(1158,850),(1180,853),(1150,858),(1163,857),(1202,857),(1190,860),(1177,863),(1160,867),(1200,867),(1170,872),(1183,870),(1158,878),(1175,877),(1190,878),(1205,882),(1165,885),(1182,883),(1157,888),(1178,892),(1198,889),(1207,898),(1130,886),(1177,900),(1165,903),(1119,653),(1143,648),(1225,684),(1204,722),(1214,744),(1280,757),(1169,745),(1160,753),(1197,767),(1230,771),(1258,774),(1172,764),(1183,767),(1167,783),(1178,794),(1147,794),(1193,792),(1201,795),(1237,803),(1133,798),(1177,812),(1214,820),(1248,817),(1105,840),(1107,847),(1087,832),(1078,842),(1111,852),(1232,842),(1224,847),(1242,854),(1256,861),(1274,872),(1221,876),(1233,878),(1257,882),(1222,886),(1233,886),(1223,907),(1203,913),(1119,904),(1125,905),(1117,917),(1121,916),(1216,923),(1197,928),(1218,944),(1183,962),(1154,966),(1149,969),(1125,969),(1102,979),(1177,979),(1182,981),(1142,987),(1170,989),(1176,1028),(1192,1008),(1159,1074),(1128,1039),(1073,1009),(1092,1013),(1089,1020),(1078,1021),(1095,1030),(1120,1026),(1082,1040),(1097,1042),(1062,1045),(1085,1050),(1057,1052),(1098,1050),(1064,1052),(1037,1010),(1027,1015),(1045,1015),(1018,1018),(1033,1020),(1053,1018),(1063,1020),(1043,1025),(1030,1028),(1057,1027),(1050,1033),(1037,1033),(1040,1042),(1063,1037),(1067,1033),(1025,1023),(992,1002),(990,1008),(1005,1012),(982,1002),(1000,992),(963,990),(958,993),(927,995),(988,1024),(1035,1061),(1030,1068),(1083,1076),(1128,1070),(968,966),(962,969),(980,950),(895,966),(838,973),(856,972),(832,983),(844,965),(865,938),(849,931),(902,902),(986,905),(1055,712),(1041,727),(1027,716),(1077,429),(1088,460),(1092,467),(1085,473),(1088,482),(1090,492),(1111,493),(1262,467),(1139,499)]
CYAN = [(1072,647),(1092,646),(1171,642),(1212,650),(1163,663),(1125,670),(1090,671),(1193,671),(1071,685),(1085,690),(1137,688),(1192,691),(948,691),(1064,693),(1097,701),(1108,702),(1119,699),(1244,702),(1210,704),(968,703),(1021,706),(1050,703),(1117,709),(1125,708),(1176,709),(1221,712),(989,708),(992,710),(1025,714),(1088,715),(1143,715),(1279,723),(953,719),(1143,726),(1072,727),(1238,728),(961,730),(986,729),(1021,730),(1093,731),(1117,728),(1163,734),(934,730),(1103,734),(1146,739),(1068,740),(934,740),(999,743),(1021,746),(1065,745),(1092,744),(1146,750),(1256,749),(1083,748),(1166,751),(1008,755),(988,754),(1066,755),(1047,757),(1093,750),(1129,756),(1197,754),(1090,759),(1023,763),(1136,765),(1101,765),(1149,764),(1057,768),(1068,770),(1083,770),(1095,768),(1225,767),(1154,771),(992,771),(1036,771),(1133,776),(1110,775),(1015,779),(1076,780),(1100,782),(1180,781),(1137,785),(1214,783),(1272,787),(1247,789),(1112,782),(1084,785),(1059,786),(1199,787),(1158,788),(1051,790),(1102,788),(1028,791),(1103,793),(1000,793),(1167,795),(1150,798),(1221,798),(1032,800),(1085,799),(1260,804),(1293,803),(1065,801),(1193,805),(1009,804),(1156,807),(1103,808),(1122,807),(1220,809),(1138,808),(1047,809),(1085,813),(1204,815),(1253,813),(1266,813),(1075,813),(1030,815),(1137,812),(1148,815),(1067,817),(1116,818),(1187,821),(1227,821),(1165,822),(1062,823),(1081,825),(1133,824),(1100,824),(1281,825),(994,822),(1270,824),(1117,829),(1101,830),(1011,829),(1043,829),(1032,832),(1153,828),(1222,832),(1132,835),(1243,828),(1043,835),(1069,840),(1075,837),(1160,840),(1215,843),(1262,842),(1003,847),(1023,847),(1029,847),(1045,847),(1147,847),(1243,848),(1293,848),(1080,854),(1101,853),(1140,853),(1184,853),(1213,854),(1265,853),(1003,863),(986,864),(1036,863),(1047,863),(1111,862),(1126,862),(1169,863),(1234,867),(1062,870),(1088,870),(1194,869),(1142,872),(1095,874),(1251,870),(1300,872),(1019,876),(997,878),(1044,877),(1117,878),(1081,882),(1141,883),(1103,886),(1243,885),(1286,889),(1148,891),(1127,893),(1250,892),(1055,892),(1089,894),(1143,896),(1204,894),(1188,895),(1062,899),(1034,900),(1163,902),(1233,907),(1264,905),(1077,907),(1104,904),(1139,911),(1155,915),(1190,915),(1006,917),(1038,917),(1285,918),(1064,922),(1098,923),(1250,922),(1179,922),(1078,926),(1159,927),(1032,935),(1194,935),(1120,938),(1095,943),(1154,943),(1060,943),(1165,947),(1249,947),(1291,950),(1037,953),(1079,957),(1132,953),(1197,954),(1099,960),(1233,963),(1179,964),(1002,966),(1063,966),(1041,967),(1081,972),(1117,969),(1110,974),(1262,977),(1030,977),(1060,979),(1010,982),(989,981),(1190,984),(1136,988),(1172,988),(1046,988),(1101,989),(1074,989),(1085,992),(1031,991),(1062,996),(1213,998),(1150,998),(1012,999),(1036,997),(1131,1003),(1112,1004),(1093,1005),(1031,1005),(1196,1007),(1167,1011),(1026,1012),(1126,1016),(1108,1018),(1141,1017),(1223,1017),(1079,1029),(1106,1032),(1129,1030),(1061,1032),(1019,1032),(1004,1032),(998,1027),(1150,1036),(1189,1034),(1111,1043),(1007,1048),(1028,1049),(1079,1047),(1049,1051),(1139,1051),(1165,1053),(1080,1056),(1116,1052),(1107,1054),(1096,1056),(1016,1057),(983,1052),(998,1063),(1015,1065),(1051,1067),(1064,1071),(1076,1066),(1133,1070),(1098,1073),(1108,1073),(1080,1080),(974,1075),(998,1086),(1024,1086),(1057,1087),(1062,1088),(1104,1087),(1113,1087),(1121,1084),(1132,1091),(1089,1096),(1113,1094),(872,757),(935,707),(911,692),(914,724),(888,822),(845,818),(893,833),(822,841),(978,840),(930,837),(971,798),(974,831),(943,856),(917,870),(915,874),(899,873),(843,882),(899,885),(969,876),(887,893),(826,903),(821,912),(856,907),(990,903),(806,925),(823,928),(847,928),(876,931),(868,932),(986,929),(856,939),(951,937),(931,942),(820,942),(977,945),(861,950),(873,952),(837,952),(838,960),(916,963),(902,962),(930,965),(972,959),(832,970),(859,968),(818,973),(951,969),(925,973),(877,976),(884,977),(913,979),(903,982),(936,983),(963,978),(856,988),(879,989),(892,987),(891,993),(908,996),(874,1003),(894,1005),(832,1003),(970,1000),(981,1008),(936,1011),(919,1012),(956,1011),(965,1012),(902,1019),(930,1022),(859,1020),(951,1019),(959,1023),(870,1027),(880,1028),(891,1029),(915,1031),(943,1031),(960,1029),(938,1040),(972,1037),(967,1038),(899,1043),(839,1047),(955,1049),(947,1051),(915,1056),(922,1064),(770,696),(778,733),(790,749),(776,794),(822,841),(662,863),(747,888),(755,883),(791,887),(806,925),(821,912),(823,928),(820,942),(798,954),(766,977),(794,977),(819,973),(832,970),(825,903),(1052,510),(1059,526),(1070,475),(1051,602),(1046,612),(1066,606),(1059,629),(1072,647),(826,633),(843,650),(719,618),(708,621),(724,683),(769,696),(911,692),(948,691),(968,703),(924,611),(850,523),(1063,442),(1052,455),(1072,464),(1062,442),(1053,455),(1059,457),(1070,475),(1070,483),(1106,473),(1102,483),(1126,486),(1109,488),(1262,473),(1120,497),(593,838)]
OLIVE = [(1584,485),(1548,497),(1644,495),(1609,503),(1681,508),(1513,516),(1542,518),(1571,515),(1660,516),(1586,522),(1624,523),(1559,525),(1485,530),(1672,529),(1691,528),(1736,527),(1519,531),(1546,534),(1639,534),(1468,536),(1731,537),(1657,539),(1595,540),(1618,541),(1524,542),(1721,541),(1677,543),(1681,544),(1760,544),(1500,546),(1565,545),(1587,546),(1735,548),(1546,549),(1576,550),(1754,549),(1770,554),(1489,556),(1431,557),(1529,558),(1561,557),(1597,556),(1639,554),(1726,556),(1748,557),(1469,559),(1620,560),(1653,560),(1671,559),(1758,560),(1471,566),(1694,562),(1549,565),(1491,568),(1508,569),(1519,569),(1579,567),(1719,567),(1774,567),(1559,570),(1595,570),(1629,571),(1667,572),(1762,573),(1535,574),(1649,574),(1613,575),(1457,578),(1476,579),(1682,577),(1699,579),(1571,579),(1552,581),(1593,581),(1510,582),(1494,583),(1526,583),(1627,583),(1644,584),(1659,586),(1606,587),(1534,589),(1431,589),(1563,590),(1617,591),(1636,592),(1678,590),(1743,590),(1466,594),(1486,594),(1505,594),(1519,594),(1547,594),(1582,592),(1712,595),(1764,596),(1408,599),(1571,597),(1595,597),(1652,598),(1691,598),(1611,600),(1526,603),(1539,602),(1562,603),(1624,603),(1636,602),(1657,602),(1443,605),(1478,605),(1499,605),(1510,604),(1595,606),(1794,606),(1572,610),(1525,611),(1610,612),(1616,613),(1632,612),(1643,611),(1675,611),(1455,614),(1497,614),(1541,615),(1555,614),(1582,615),(1654,613),(1696,614),(1433,619),(1481,618),(1512,619),(1564,618),(1599,618),(1722,616),(1671,625),(1737,626),(1748,623),(1517,627),(1531,626),(1547,625),(1584,625),(1589,626),(1617,626),(1633,622),(1652,624),(1491,628),(1466,629),(1713,629),(1573,630),(1605,631),(1451,632),(1557,632),(1642,632),(1697,632),(1784,633),(1423,637),(1506,635),(1537,637),(1592,638),(1623,636),(1486,639),(1606,639),(1661,639),(1682,638),(1454,644),(1517,642),(1550,643),(1569,641),(1640,645),(1674,646),(1693,647),(1739,643),(1584,648),(1614,646),(1716,648),(1473,650),(1529,650),(1561,651),(1596,651),(1627,652),(1401,654),(1543,655),(1578,655),(1658,655),(1725,653),(1439,657),(1491,657),(1606,656),(1678,658),(1705,657),(1765,659),(1506,660),(1622,661),(1694,662),(1731,663),(1477,666),(1490,668),(1518,665),(1534,664),(1562,664),(1579,665),(1593,667),(1653,664),(1670,668),(1687,668),(1459,669),(1599,671),(1636,671),(1710,672),(1507,673),(1554,674),(1552,675),(1617,674),(1529,676),(1571,676),(1654,679),(1432,679),(1479,679),(1493,680),(1546,680),(1693,679),(1775,680),(1515,681),(1585,681),(1607,683),(1635,684),(1501,686),(1514,687),(1524,687),(1482,689),(1674,687),(1730,688),(1451,689),(1447,692),(1501,692),(1540,690),(1618,690),(1705,691),(1564,693),(1580,695),(1595,691),(1651,695),(1478,697),(1489,698),(1515,696),(1529,698),(1548,698),(1606,697),(1396,702),(1435,703),(1500,701),(1527,703),(1631,701),(1672,701),(1454,705),(1593,705),(1700,707),(1731,706),(1467,712),(1483,711),(1542,710),(1568,710),(1613,710),(1657,709),(1496,714),(1632,712),(1706,712),(1519,716),(1579,717),(1725,715),(1556,721),(1600,723),(1634,722),(1690,723),(1672,727),(1539,729),(1505,731),(1571,731),(1657,730),(1477,732),(1435,736),(1525,735),(1617,736),(1573,740),(1607,742),(1546,751),(1700,753),(1745,754),(1445,759),(1480,756),(1504,756),(1599,764),(1624,763),(1664,765),(1535,774),(1494,780),(1634,778),(1697,776),(1585,783),(1672,790),(1557,791),(1521,800),(1644,800),(1493,808),(1583,806),(1609,804),(1627,807),(1686,810),(1721,806),(1556,810),(1524,814),(1650,814),(1607,819),(1630,821),(1641,823),(1663,820),(1552,824),(1574,826),(1713,824),(1755,823),(1689,827),(1612,830),(1467,833),(1501,831),(1539,833),(1633,832),(1651,832),(1524,836),(1587,837),(1675,835),(1736,838),(1485,841),(1554,840),(1574,841),(1612,840),(1702,839),(1674,841),(1593,844),(1644,843),(1554,846),(1624,846),(1514,849),(1536,849),(1660,850),(1729,849),(1562,851),(1580,852),(1606,853),(1711,852),(1697,854),(1552,855),(1626,856),(1597,858),(1471,860),(1568,861),(1604,861),(1645,859),(1666,859),(1682,858),(1498,865),(1534,866),(1558,865),(1584,864),(1719,866),(1518,869),(1613,869),(1629,869),(1651,869),(1691,867),(1749,868),(1586,871),(1599,872),(1673,872),(1735,872),(1548,875),(1563,876),(1576,875),(1700,874),(1597,878),(1617,878),(1659,878),(1685,876),(1530,882),(1582,883),(1635,881),(1713,882),(1512,885),(1542,885),(1605,885),(1624,885),(1698,884),(1739,884),(1558,887),(1483,889),(1650,888),(1667,888),(1685,889),(1459,892),(1532,891),(1570,892),(1591,891),(1583,894),(1608,894),(1622,893),(1633,890),(1666,894),(1759,894),(1540,898),(1640,898),(1517,899),(1554,900),(1595,901),(1697,899),(1500,902),(1615,902),(1720,901),(1443,905),(1481,905),(1530,904),(1567,904),(1581,904),(1541,909),(1557,909),(1602,909),(1633,910),(1653,911),(1678,907),(1744,910),(1521,914),(1592,915),(1623,914),(1473,917),(1497,917),(1570,915),(1608,916),(1709,915),(1758,914),(1545,920),(1534,924),(1669,922),(1514,924),(1554,924),(1497,926),(1568,926),(1597,925),(1629,924),(1644,924),(1688,924),(1446,927),(1472,929),(1583,928),(1610,926),(1745,926),(1547,931),(1512,935),(1496,939),(1526,938),(1547,939),(1564,940),(1658,937),(1722,939),(1456,942),(1477,944),(1504,944),(1515,946),(1592,945),(1608,942),(1627,941),(1677,946),(1537,947),(1471,952),(1490,951),(1552,951),(1573,952),(1521,959),(1531,959),(1622,958),(1647,960),(1458,963),(1502,961),(1489,964),(1558,964),(1596,966),(1681,965),(1513,971),(1478,974),(1533,973),(1497,978),(1557,985),(1572,981),(1593,986),(1511,987),(1552,996),(1584,1001),(1540,1006)]

# (points, colour) in plotting order
CLASSES = [
    (BLUE, "#1f77b4"),
    (LIGHT_BLUE, "#aec7e8"),
    (ORANGE, "#ff7f0e"),
    (LIGHT_ORANGE, "#ffbb78"),
    (GREEN, "#2ca02c"),
    (LIGHT_GREEN, "#98df8a"),
    (RED, "#d62728"),
    (LIGHT_RED, "#ff9896"),
    (PURPLE, "#9467bd"),
    (ORANGE_STRAY, "#ff7f0e"),
    (BROWN, "#8c564b"),
    (LIGHT_BROWN, "#c49c94"),
    (PINK, "#e377c2"),
    (LIGHT_PINK, "#f7b6d2"),
    (GREY, "#c7c7c7"),
    (OLIVE, "#bcbd22"),
    (KHAKI, "#dbdb8d"),
    (CYAN, "#17becf"),
]

fig = go.Figure()
for points, colour in CLASSES:
    fig.add_trace(
        go.Scatter(
            x=[p[0] for p in points],
            y=[p[1] for p in points],
            mode="markers",
            marker=dict(size=9, color=colour, line=dict(width=0)),
            showlegend=False,
        )
    )

axis_style = dict(
    showgrid=False,
    zeroline=False,
    showticklabels=False,
    ticks="",
    showline=True,
    mirror=True,
    linecolor="#111111",
    linewidth=2,
)
fig.update_xaxes(range=[36, 1878], **axis_style)
fig.update_yaxes(range=[1382, 24], **axis_style)
fig.update_layout(
    width=1881,
    height=1401,
    margin=dict(l=29, r=10, t=17, b=26),
    paper_bgcolor="white",
    plot_bgcolor="white",
)

fig.write_html("out.html")
